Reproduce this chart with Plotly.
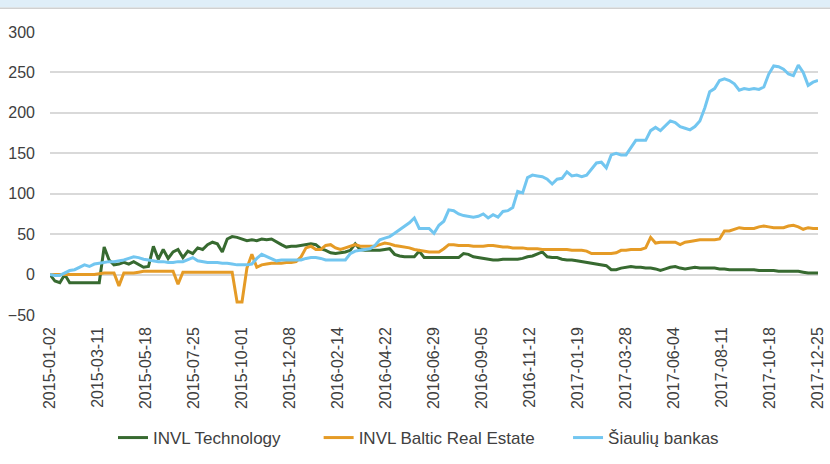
import pandas as pd
import plotly.graph_objects as go

start_date = "2015-01-02"
end_date = "2017-12-25"
n_points = 157
tick_dates_step_days = 68

series_names = ["INVL Technology", "INVL Baltic Real Estate", "Šiaulių bankas"]

invl_technology = [
    0, -8, -10, 0, -10, -10, -10, -10, -10, -10, -10, 34, 18, 12, 13, 15, 13, 16, 12, 9,
    10, 35, 19, 31, 20, 28, 31, 21, 29, 26, 33, 31, 37, 40, 38, 28, 44, 47, 46, 44,
    42, 43, 42, 44, 43, 44, 40, 37, 34, 35, 35, 36, 37, 38, 37, 32, 30, 27, 26, 27,
    28, 30, 38, 31, 30, 30, 30, 30, 31, 32, 25, 23, 22, 22, 22, 29, 21, 21, 21, 21,
    21, 21, 21, 21, 26, 25, 22, 21, 20, 19, 18, 18, 19, 19, 19, 19, 20, 22, 23, 26,
    28, 22, 21, 21, 19, 18, 18, 17, 16, 15, 14, 13, 12, 11, 6, 6, 8, 9, 10, 9,
    9, 8, 8, 7, 5, 7, 9, 10, 8, 7, 8, 9, 8, 8, 8, 8, 7, 7, 6, 6,
    6, 6, 6, 6, 5, 5, 5, 5, 4, 4, 4, 4, 4, 3, 2, 2, 2,
]

invl_baltic_real_estate = [
    0, 0, 0, 0, 0, 0, 0, 0, 0, 0, 1, 2, 2, 2, -14, 2, 2, 2, 3, 4,
    4, 4, 4, 4, 4, 4, -12, 3, 3, 3, 3, 3, 3, 3, 3, 3, 3, 3, -34, -34,
    8, 25, 9, 12, 13, 14, 14, 14, 15, 15, 16, 22, 33, 35, 31, 31, 36, 37, 33, 31,
    33, 35, 37, 35, 35, 35, 35, 37, 39, 38, 36, 35, 34, 33, 31, 30, 29, 28, 28, 28,
    32, 37, 37, 36, 36, 36, 35, 35, 35, 36, 36, 35, 34, 34, 33, 33, 33, 32, 32, 32,
    31, 31, 31, 31, 31, 31, 30, 30, 30, 29, 26, 26, 26, 26, 26, 27, 30, 30, 31, 31,
    31, 33, 46, 39, 40, 40, 40, 40, 37, 40, 41, 42, 43, 43, 43, 43, 44, 54, 54, 56,
    58, 57, 57, 57, 59, 60, 59, 58, 58, 58, 60, 61, 59, 56, 58, 57, 57,
]

siauliu_bankas = [
    0, -1, -1, 2, 5, 6, 9, 12, 10, 13, 14, 15, 16, 16, 17, 18, 20, 22, 21, 19,
    18, 17, 16, 16, 15, 15, 16, 16, 19, 21, 17, 16, 15, 15, 15, 14, 14, 13, 12, 12,
    12, 13, 20, 25, 22, 19, 17, 18, 18, 18, 18, 18, 20, 21, 21, 20, 18, 18, 18, 18,
    18, 26, 29, 30, 31, 32, 36, 43, 45, 47, 51, 55, 60, 64, 70, 57, 57, 57, 51, 61,
    66, 80, 79, 75, 73, 72, 71, 72, 75, 70, 74, 71, 78, 79, 83, 103, 101, 120, 123, 122,
    121, 118, 112, 118, 119, 127, 122, 123, 121, 123, 130, 138, 139, 132, 148, 150, 148, 148, 157, 166,
    166, 166, 178, 182, 178, 184, 190, 188, 183, 181, 179, 183, 190, 206, 226, 230, 240, 242, 240, 236,
    228, 230, 229, 230, 229, 232, 248, 258, 257, 254, 248, 246, 259, 250, 234, 238, 240,
]

y_range = [-50, 300]
y_dtick = 50

dates = pd.date_range(start_date, end_date, periods=n_points)
colors = ["#376a30", "#e59b26", "#72c6f0"]
values = [invl_technology, invl_baltic_real_estate, siauliu_bankas]
legend_pad = ["\u00a0" * 7, "\u00a0" * 6, ""]

fig = go.Figure()
for name, vals, col, pad in zip(series_names, values, colors, legend_pad):
    fig.add_trace(go.Scatter(
        x=dates, y=vals, name=name + pad, mode="lines",
        line=dict(color=col, width=3),
    ))

font_family = "Liberation Sans, Arial, sans-serif"
text_color = "#404040"

fig.update_layout(
    width=830, height=464,
    margin=dict(l=50, r=12, t=32, b=149, pad=0, autoexpand=False),
    paper_bgcolor="white", plot_bgcolor="white",
    font=dict(family=font_family, size=16, color=text_color),
    showlegend=True,
    legend=dict(
        orientation="h", x=0.082, xanchor="left",
        yref="container", y=0.056, yanchor="middle",
        font=dict(family=font_family, size=17, color=text_color),
        bgcolor="rgba(0,0,0,0)",
    ),
    xaxis=dict(
        type="date",
        range=[start_date, end_date],
        tick0=start_date,
        dtick=tick_dates_step_days * 86400000,
        tickformat="%Y-%m-%d",
        tickangle=-90,
        showgrid=False, zeroline=False, showline=False,
        ticks="", automargin=False,
        ticklabelstandoff=8,
        tickfont=dict(size=16, color=text_color),
    ),
    yaxis=dict(
        range=y_range, dtick=y_dtick, tick0=0,
        showgrid=True, gridcolor="#d9d9d9", gridwidth=1.5,
        zeroline=False, showline=False, ticks="", automargin=False,
        ticklabelstandoff=14,
        tickfont=dict(size=16, color=text_color),
    ),
    shapes=[
        dict(type="rect", xref="paper", yref="paper", x0=-0.1, x1=1.1,
             y0=1.0867, y1=1.2, fillcolor="#dfeef8", line=dict(width=0), layer="above"),
        dict(type="rect", xref="paper", yref="paper", x0=-0.1, x1=1.1,
             y0=1.0815, y1=1.0867, fillcolor="#d0d0d0", line=dict(width=0), layer="above"),
    ],
)

fig.write_html(
    "out.html",
    config={"displayModeBar": False},
    post_script="document.body.style.margin='0px';",
)
